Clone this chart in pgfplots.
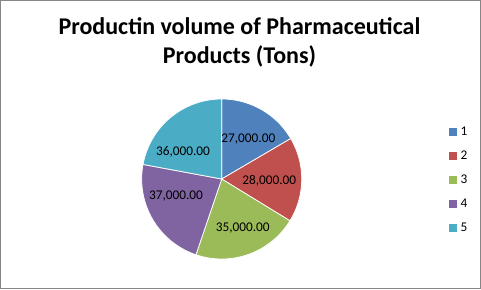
\documentclass[border=0pt]{standalone}
\usepackage{pgfplots}
\pgfplotsset{compat=1.18}
\usepackage{fontspec}
\setmainfont{Carlito}
\definecolor{c1}{HTML}{4F81BD}
\definecolor{c2}{HTML}{C0504D}
\definecolor{c3}{HTML}{9BBB59}
\definecolor{c4}{HTML}{8064A2}
\definecolor{c5}{HTML}{4BACC6}
\definecolor{frame}{HTML}{868686}
% data (tons)
\def\vA{27000}\def\vB{28000}\def\vC{35000}\def\vD{37000}\def\vE{36000}
\edef\tot{\fpeval{\vA+\vB+\vC+\vD+\vE}}
\edef\aA{90}
\edef\aB{\fpeval{round(\aA-360*\vA/\tot,4)}}
\edef\aC{\fpeval{round(\aB-360*\vB/\tot,4)}}
\edef\aD{\fpeval{round(\aC-360*\vC/\tot,4)}}
\edef\aE{\fpeval{round(\aD-360*\vD/\tot,4)}}
\edef\aF{\fpeval{round(\aE-360*\vE/\tot,4)}}
\newcommand\lab[1]{\pgfmathprintnumber[fixed,fixed zerofill,precision=2,1000 sep={,},assume math mode=true]{#1}}
\begin{document}
\begin{tikzpicture}[x=1bp,y=1bp]
\useasboundingbox (0,0) rectangle (481,289);
\fill[white] (0,0) rectangle (481,289);
\draw[color=frame,line width=1bp] (0.5,0.5) rectangle (480.5,288.5);
\node[anchor=base,inner sep=0pt,font=\bfseries\fontsize{24bp}{29bp}\selectfont] at (239.5,254.7) {Productin volume of Pharmaceutical};
\node[anchor=base,inner sep=0pt,font=\bfseries\fontsize{24bp}{29bp}\selectfont] at (239.5,225.7) {Products (Tons)};
\begin{axis}[
  at={(221.7bp,110bp)}, anchor=center,
  scale only axis, width=160bp, height=160bp,
  xmin=-1, xmax=1, ymin=-1, ymax=1,
  hide axis, clip=false,
  every axis plot/.append style={draw=white, line width=0.75bp, samples=90},
  legend image code/.code={\fill[#1,draw=none] (0bp,0bp) rectangle (7.5bp,7.5bp);},
  legend style={at={(1.921,0.5)}, anchor=west, draw=none, fill=none,
    inner sep=0pt, outer sep=0pt, row sep=15bp,
    font=\fontsize{13.3bp}{16bp}\selectfont,
    nodes={inner sep=0pt, text height=9bp, text depth=0pt, anchor=base west,
      font=\fontsize{13.3bp}{16bp}\selectfont}},
  legend cell align=left,
  /tikz/every odd column/.append style={column sep=4bp},
]
\addplot[fill=c1, domain=\aB:\aA] ({cos(x)},{sin(x)}) -- (axis cs:0,0) -- cycle;
\addlegendentry{1}
\addplot[fill=c2, domain=\aC:\aB] ({cos(x)},{sin(x)}) -- (axis cs:0,0) -- cycle;
\addlegendentry{2}
\addplot[fill=c3, domain=\aD:\aC] ({cos(x)},{sin(x)}) -- (axis cs:0,0) -- cycle;
\addlegendentry{3}
\addplot[fill=c4, domain=\aE:\aD] ({cos(x)},{sin(x)}) -- (axis cs:0,0) -- cycle;
\addlegendentry{4}
\addplot[fill=c5, domain=\aF:\aE] ({cos(x)},{sin(x)}) -- (axis cs:0,0) -- cycle;
\addlegendentry{5}
\begin{scope}[every node/.style={inner sep=0pt, font=\fontsize{13.3bp}{16bp}\selectfont}]
\node at (axis cs:0.333,0.500) {\lab{\vA}};
\node at (axis cs:0.594,-0.022) {\lab{\vB}};
\node at (axis cs:0.263,-0.611) {\lab{\vC}};
\node at (axis cs:-0.571,-0.216) {\lab{\vD}};
\node at (axis cs:-0.484,0.340) {\lab{\vE}};
\end{scope}
\end{axis}
\end{tikzpicture}
\end{document}
